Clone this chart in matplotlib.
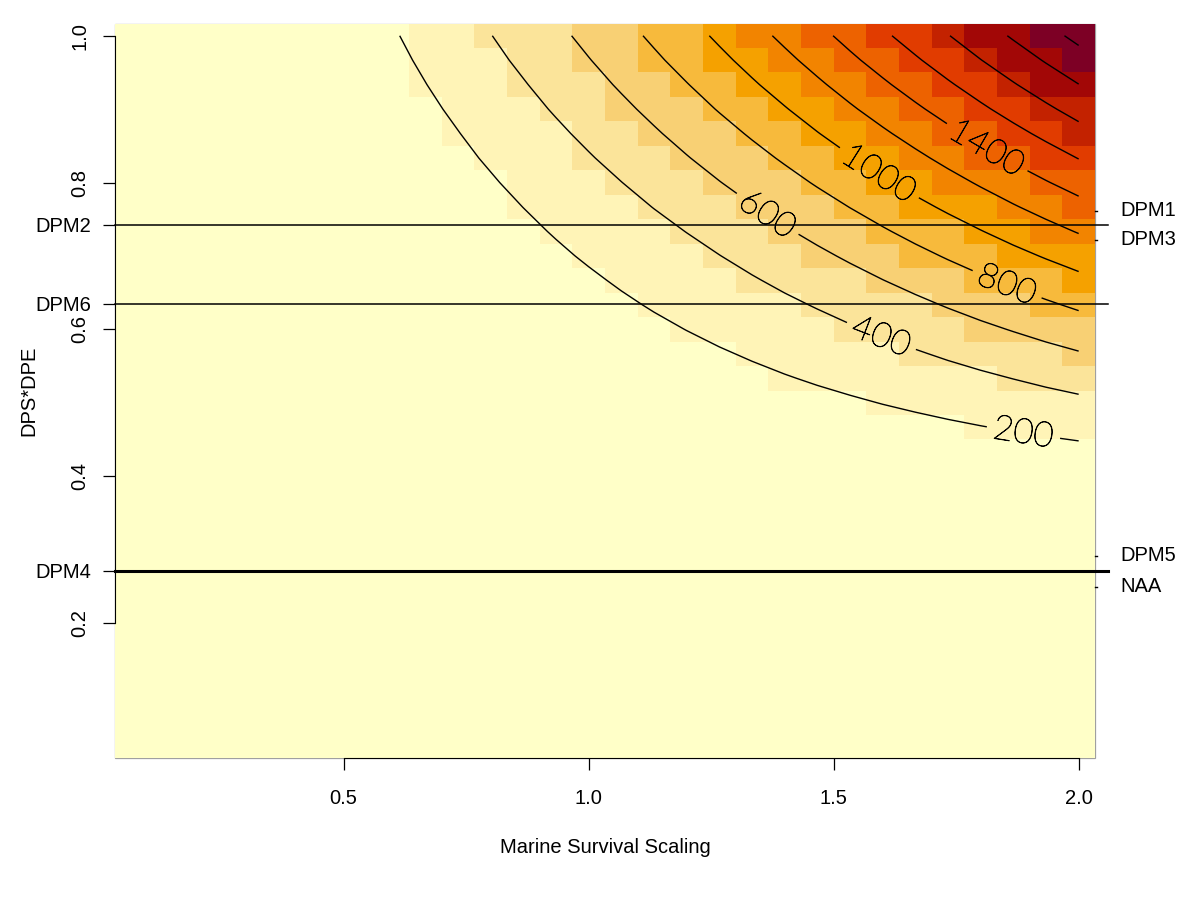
import numpy as np
import matplotlib
matplotlib.use("Agg")
import matplotlib.pyplot as plt
import matplotlib.patheffects as pe
from matplotlib.colors import ListedColormap, BoundaryNorm
from matplotlib.patches import Rectangle
import matplotlib.transforms as mtransforms

plt.rcParams['font.family'] = ['Liberation Sans', 'DejaVu Sans']

# grid of cell centres
ms_scale = np.arange(1, 31) / 15      # marine survival scaling, 1/15 .. 2
dps_dpe = np.arange(1, 31) / 30       # DPS*DPE, 1/30 .. 1

# returns for DPS*DPE rows 0.400 .. 1.000 (rows below 0.4 are all zero)
returns_upper = [
    [0]*14 + [35, 35, 35, 35, 35, 35, 35, 35, 35, 35, 37, 40, 44, 50, 56, 62],
    [0]*14 + [67, 67, 67, 67, 67, 67, 68, 71, 77, 84, 94, 104, 116, 129, 142, 156],
    [0]*14 + [85, 85, 85, 85, 88, 93, 102, 113, 126, 141, 157, 175, 195, 215, 235, 256],
    [0]*14 + [95, 95, 98, 105, 114, 127, 143, 161, 181, 204, 227, 253, 279, 306, 334, 362],
    [0]*14 + [101, 107, 117, 131, 148, 168, 191, 216, 243, 272, 303, 336, 369, 403, 438, 472],
    [0]*14 + [112, 125, 142, 163, 187, 214, 244, 276, 311, 347, 384, 424, 464, 504, 546, 587],
    [0]*14 + [129, 150, 174, 202, 233, 266, 303, 342, 383, 426, 470, 516, 563, 610, 658, 706],
    [0]*5 + [83, 83, 83, 83, 83, 87, 97, 111, 130, 153, 180, 211, 245, 283, 324, 367, 412, 460,
             509, 560, 613, 666, 720, 774, 829],
    [0]*5 + [72, 72, 72, 72, 78, 89, 105, 126, 152, 181, 215, 253, 294, 338, 385, 435, 487, 541,
             597, 654, 713, 772, 833, 893, 954],
    [0]*5 + [59, 59, 60, 66, 79, 96, 119, 147, 179, 215, 255, 299, 347, 397, 451, 507, 565, 625,
             688, 751, 816, 882, 948, 1015, 1081],
    [0]*5 + [44, 45, 53, 66, 85, 109, 138, 172, 210, 253, 299, 350, 403, 460, 520, 582, 646, 713,
             781, 851, 922, 993, 1066, 1138, 1211],
    [0]*5 + [29, 37, 50, 70, 95, 125, 161, 201, 245, 294, 347, 404, 463, 526, 592, 660, 730, 803,
             877, 953, 1029, 1107, 1185, 1263, 1342],
    [0]*5 + [19, 33, 52, 78, 109, 146, 187, 234, 284, 339, 398, 460, 526, 595, 666, 740, 817, 895,
             975, 1056, 1138, 1221, 1305, 1389, 1473],
    [0]*5 + [13, 32, 58, 90, 127, 170, 217, 269, 326, 387, 451, 519, 591, 665, 743, 822, 904, 988,
             1073, 1160, 1248, 1337, 1426, 1515, 1605],
    [0]*5 + [10, 36, 67, 105, 148, 196, 250, 307, 370, 436, 506, 580, 657, 737, 820, 905, 993,
             1082, 1173, 1265, 1358, 1453, 1547, 1642, 1736],
    [0]*5 + [10, 42, 79, 123, 171, 225, 284, 348, 416, 487, 563, 642, 725, 811, 899, 989, 1082,
             1177, 1273, 1370, 1469, 1568, 1668, 1767, 1867],
    [0]*5 + [13, 50, 94, 142, 197, 256, 320, 389, 463, 540, 621, 706, 793, 884, 978, 1073, 1171,
             1271, 1372, 1475, 1578, 1682, 1787, 1892, 1997],
    [0]*5 + [18, 61, 110, 164, 223, 288, 358, 432, 510, 593, 679, 769, 862, 958, 1056, 1157, 1260,
             1365, 1471, 1578, 1687, 1796, 1905, 2015, 2124],
    [0]*5 + [25, 73, 127, 186, 251, 321, 396, 475, 558, 646, 737, 832, 930, 1031, 1134, 1240, 1347,
             1457, 1568, 1680, 1793, 1907, 2021, 2135, 2250],
]

contour_levels = [200, 400, 600, 800, 1000, 1200, 1400, 1600, 1800, 2000, 2200]

left_names = ['DPM2', 'DPM6', 'DPM4']
left_vals = [0.7424, 0.6348, 0.2709]
right_names = ['DPM1', 'DPM3', 'DPM5', 'NAA']
right_vals = [0.7615, 0.722, 0.2913, 0.249]

returns = np.zeros((30, 30))
returns[11:] = returns_upper


def hcl_rgb(h, c, l):
    # polar LUV -> sRGB, D65 white
    hr = np.deg2rad(h)
    u, v = c*np.cos(hr), c*np.sin(hr)
    xn, yn, zn = 95.047, 100.0, 108.883
    un = 4*xn/(xn + 15*yn + 3*zn)
    vn = 9*yn/(xn + 15*yn + 3*zn)
    Y = yn*((l + 16)/116)**3 if l > 8 else yn*l/903.3
    up = u/(13*l) + un
    vp = v/(13*l) + vn
    X = 9*Y*up/(4*vp)
    Z = Y*(12 - 3*up - 20*vp)/(4*vp)
    rgb = np.array([3.240479*X - 1.537150*Y - 0.498535*Z,
                    -0.969256*X + 1.875992*Y + 0.041556*Z,
                    0.055648*X - 0.204043*Y + 1.057311*Z])/100
    rgb = np.where(rgb <= 0.0031308, 12.92*rgb, 1.055*np.abs(rgb)**(1/2.4) - 0.055)
    return np.clip(rgb, 0, 1)


def ylorrd(n):
    # sequential YlOrRd palette, light to dark
    cols = []
    j = 1/(1 + 105/140)
    for i in np.linspace(0, 1, n):
        ip = i**1.6
        c = 40 + 140*ip/j if ip <= j else 180 - 105*(ip - j)/(1 - j)
        cols.append(hcl_rgb(85 - 80*i, c, 99 - 74*i**1.3))
    return cols


cmap = ListedColormap(ylorrd(12))
norm = BoundaryNorm(np.linspace(returns.min(), returns.max(), 13), 12)

fig = plt.figure(figsize=(11.91, 9.07), dpi=100)
ax = fig.add_axes([115/1191, 1 - 757.5/907, 980/1191, 734/907])

xe = np.append(ms_scale - 1/30, ms_scale[-1] + 1/30)
ye = np.append(dps_dpe - 1/60, dps_dpe[-1] + 1/60)
ax.pcolormesh(xe, ye, returns, cmap=cmap, norm=norm, shading='flat')

XX, YY = np.meshgrid(ms_scale, dps_dpe)
cs = ax.contour(XX, YY, returns, levels=contour_levels, colors='black', linewidths=1.0)
labs = cs.clabel(fmt='%d', fontsize=25, inline=True, inline_spacing=8,
                 manual=[(1.886, 0.4535), (1.6, 0.595), (1.364, 0.756), (1.855, 0.663),
                         (1.595, 0.815), (1.814, 0.849)])
for t in labs:
    t.set_fontfamily('Lato')
    t.set_fontweight('light')
    t.set_color('black')
    t.set_path_effects([pe.withStroke(linewidth=0.6, foreground='black')])

ax.set_xlim(xe[0], xe[-1])
ax.set_ylim(ye[0], ye[-1])

# scenario reference lines
for v, lw in zip(left_vals, [1.1, 1.1, 2.2]):
    ax.plot([xe[0], 2.059], [v, v], color='black', lw=lw, clip_on=False, zorder=5)

trans = mtransforms.blended_transform_factory(ax.transAxes, ax.transData)
for name, v in zip(right_names, right_vals):
    ax.plot([1.0, 1.0025], [v, v], color='black', lw=1, transform=trans, clip_on=False)
    ax.text(1.0255, v, name, transform=trans, ha='left', va='center', fontsize=14.5)

ax.set_xticks([0.5, 1.0, 1.5, 2.0])
ax.set_xticklabels(['0.5', '1.0', '1.5', '2.0'])
ax.set_yticks([0.2, 0.4, 0.6, 0.8, 1.0])
ax.set_yticklabels(['0.2', '0.4', '0.6', '0.8', '1.0'], rotation=90, va='center')
ax.set_yticks(left_vals, minor=True)
ax.set_yticklabels(left_names, minor=True)
ax.tick_params(axis='both', which='both', length=8.6, width=0.9, labelsize=14.5, direction='out')
ax.tick_params(axis='x', pad=14)
ax.tick_params(axis='y', which='major', pad=10)
ax.tick_params(axis='y', which='minor', pad=8.5)

for s in ['top', 'right']:
    ax.spines[s].set_visible(False)
ax.spines['bottom'].set_bounds(0.5, 2.0)
ax.spines['left'].set_bounds(0.2, 1.0)
ax.add_patch(Rectangle((0, 0), 1, 1, transform=ax.transAxes, fill=False, edgecolor='#a0a0a0',
                       lw=0.9, zorder=0.5, clip_on=False))

ax.set_xlabel('Marine Survival Scaling', fontsize=14.5)
ax.set_ylabel('DPS*DPE', fontsize=14.5)
ax.xaxis.set_label_coords(0.5, -(838 - 757.5)/734)
ax.yaxis.set_label_coords(-(115 - 38)/980, 0.5)

fig.savefig('out.png', dpi=100)
